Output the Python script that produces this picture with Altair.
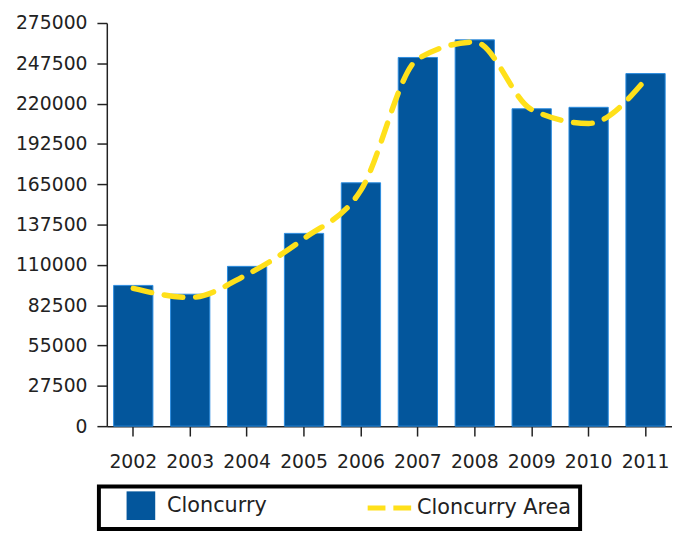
import altair as alt
import pandas as pd

years = ["2002", "2003", "2004", "2005", "2006", "2007", "2008", "2009", "2010", "2011"]
cloncurry = [96000, 90000, 109000, 131500, 166000, 251500, 263500, 216500, 217500, 240500]
cloncurry_area = [94000, 87800, 103500, 128000, 161000, 250500, 262000, 216000, 206500, 236500]
series_names = ["Cloncurry", "Cloncurry Area"]
y_ticks = [0, 27500, 55000, 82500, 110000, 137500, 165000, 192500, 220000, 247500, 275000]

BLUE = "#03569c"
YELLOW = "#ffe01a"
FONT = "DejaVu Sans"

bars_df = pd.DataFrame({"year": years, "value": cloncurry, "series": series_names[0]})
line_df = pd.DataFrame({"year": years, "value": cloncurry_area, "series": series_names[1]})

color = alt.Color(
    "series:N",
    scale=alt.Scale(domain=series_names, range=[BLUE, YELLOW]),
    legend=alt.Legend(
        title=None,
        orient="none",
        legendX=-8,
        legendY=469,
        direction="horizontal",
        columns=2,
        columnPadding=92,
        padding=9,
        symbolOffset=23,
        labelOffset=16,
        labelFont=FONT,
        labelFontSize=21,
        labelColor="#222222",
        labelLimit=300,
        symbolType={"expr": "datum.value == 'Cloncurry' ? 'square' : 'stroke'"},
        symbolSize={"expr": "datum.value == 'Cloncurry' ? 841 : 2209"},
        symbolStrokeWidth={"expr": "datum.value == 'Cloncurry' ? 0 : 5"},
        symbolDash={"expr": "datum.value == 'Cloncurry' ? [1, 0] : [18, 8]"},
        symbolStrokeColor={"expr": "datum.value == 'Cloncurry' ? '#03569c' : '#ffe01a'"},
        symbolFillColor={"expr": "datum.value == 'Cloncurry' ? '#03569c' : 'transparent'"},
        symbolOpacity=1,
        strokeColor="black",
    ),
)

x = alt.X(
    "year:N",
    sort=years,
    scale=alt.Scale(paddingInner=0.31, paddingOuter=0.12),
    axis=alt.Axis(
        title=None,
        labelAngle=0,
        labelFont=FONT,
        labelFontSize=19,
        labelColor="#222222",
        labelPadding=17,
        tickSize=10,
        tickColor="#222222",
        tickWidth=1.5,
        domainColor="#222222",
        domainWidth=1.5,
        grid=False,
    ),
)

y = alt.Y(
    "value:Q",
    scale=alt.Scale(domain=[0, 275000], nice=False),
    axis=alt.Axis(
        title=None,
        values=y_ticks,
        format="d",
        labelFont=FONT,
        labelFontSize=19,
        labelColor="#222222",
        labelPadding=10,
        tickSize=10,
        tickColor="#222222",
        tickWidth=1.5,
        domainColor="#222222",
        domainWidth=1.5,
        grid=False,
    ),
)

bars = alt.Chart(bars_df).mark_bar(stroke="#2c8ce0", strokeWidth=1).encode(x=x, y=y, color=color)

line = alt.Chart(line_df).mark_line(
    strokeWidth=5.5, strokeDash=[19, 13], strokeCap="round", interpolate="monotone"
).encode(x=x, y=y, color=color)

chart = (
    alt.layer(bars, line)
    .properties(
        width=572,
        height=408,
        padding={"left": 100, "top": 12, "right": 0, "bottom": 110},
        autosize=alt.AutoSizeParams(type="none"),
    )
    .configure_view(stroke=None)
    .configure_legend(strokeWidth=4)
)

chart.save("out.html", embed_options={"renderer": "svg", "actions": False})
